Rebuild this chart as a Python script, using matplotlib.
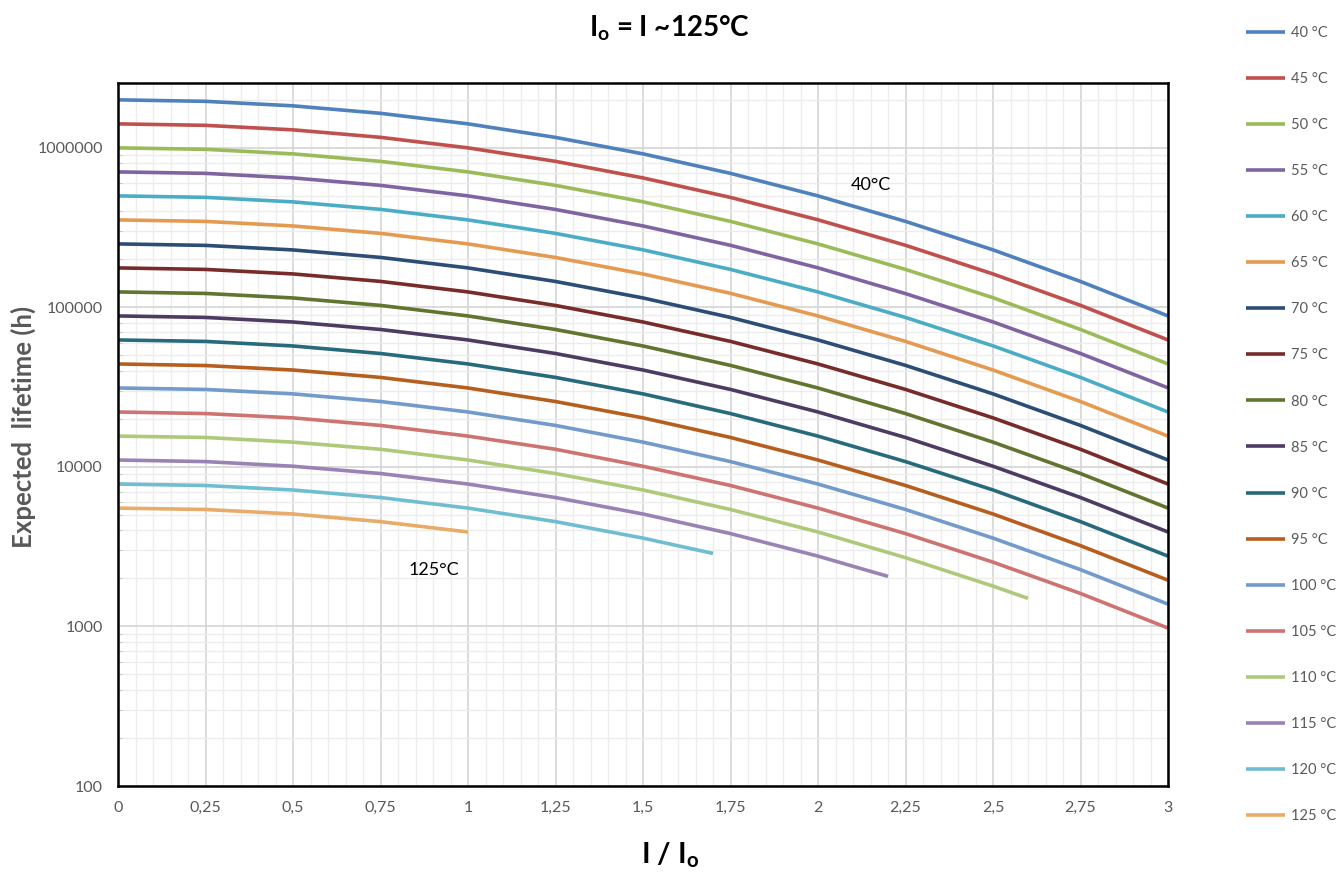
import matplotlib
matplotlib.use("Agg")
import matplotlib.pyplot as plt
from matplotlib.ticker import FixedLocator, NullFormatter, LogLocator

plt.rcParams['font.family'] = ['Lato', 'DejaVu Sans']
plt.rcParams['mathtext.fontset'] = 'custom'
plt.rcParams['mathtext.rm'] = 'Lato'
plt.rcParams['mathtext.bf'] = 'Lato:bold'

# I / Io values where the curves were read
x_grid = [0, 0.25, 0.5, 0.75, 1.0, 1.25, 1.5, 1.75, 2.0, 2.25, 2.5, 2.75, 3.0]
x_110 = [0, 0.25, 0.5, 0.75, 1.0, 1.25, 1.5, 1.75, 2.0, 2.25, 2.5, 2.6]
x_115 = [0, 0.25, 0.5, 0.75, 1.0, 1.25, 1.5, 1.75, 2.0, 2.2]
x_120 = [0, 0.25, 0.5, 0.75, 1.0, 1.25, 1.5, 1.7]
x_125 = [0, 0.25, 0.5, 0.75, 1.0]

# expected lifetime (h)
life_40 = [2000000, 1957000, 1834000, 1646000, 1414000, 1163000, 917000, 692000, 500000, 346000, 229400, 145400, 88400]
life_45 = [1414000, 1384000, 1297000, 1164000, 1000000, 823000, 648000, 489000, 354000, 245000, 162000, 103000, 62500]
life_50 = [1000000, 979000, 917000, 823000, 707000, 582000, 459000, 346000, 250000, 173000, 115000, 72700, 44200]
life_55 = [707000, 692000, 648000, 582000, 500000, 411000, 324000, 245000, 177000, 122000, 81100, 51400, 31300]
life_60 = [500000, 489500, 458500, 411500, 353500, 291000, 229500, 173000, 125000, 86500, 57400, 36400, 22100]
life_65 = [353500, 346000, 324000, 291000, 250000, 205500, 162000, 122500, 88400, 61200, 40500, 25700, 15600]
life_70 = [250000, 244700, 229200, 205700, 176800, 145400, 114600, 86500, 62500, 43300, 28700, 18200, 11050]
life_75 = [176800, 173000, 162100, 145500, 125000, 102800, 81000, 61200, 44200, 30600, 20300, 12900, 7810]
life_80 = [125000, 122300, 114600, 102900, 88400, 72700, 57300, 43300, 31250, 21600, 14300, 9090, 5520]
life_85 = [88400, 86500, 81000, 72700, 62500, 51400, 40500, 30600, 22100, 15300, 10100, 6430, 3910]
life_90 = [62500, 61200, 57300, 51400, 44200, 36400, 28700, 21600, 15600, 10800, 7170, 4540, 2760]
life_95 = [44200, 43200, 40500, 36400, 31250, 25700, 20300, 15300, 11050, 7650, 5070, 3210, 1950]
life_100 = [31250, 30600, 28700, 25700, 22100, 18200, 14300, 10800, 7810, 5410, 3580, 2270, 1380]
life_105 = [22100, 21600, 20300, 18200, 15600, 12900, 10100, 7650, 5520, 3820, 2530, 1610, 977]
life_110 = [15600, 15300, 14300, 12900, 11050, 9090, 7170, 5410, 3910, 2700, 1790, 1500]
life_115 = [11050, 10800, 10100, 9090, 7810, 6430, 5070, 3820, 2760, 2060]
life_120 = [7810, 7650, 7170, 6430, 5520, 4540, 3580, 2870]
life_125 = [5520, 5410, 5070, 4540, 3910]

labels = ["40 °C", "45 °C", "50 °C", "55 °C", "60 °C", "65 °C", "70 °C", "75 °C", "80 °C",
          "85 °C", "90 °C", "95 °C", "100 °C", "105 °C", "110 °C", "115 °C", "120 °C", "125 °C"]
colors = ["#4F81BD", "#C0504D", "#9BBB59", "#8064A2", "#4BACC6", "#E59A52",
          "#2C4D75", "#772C2A", "#5F7530", "#4D3B62", "#276A7C", "#B65E1E",
          "#729ACA", "#CD7371", "#AFC97A", "#9983B5", "#6FBDD1", "#E8AC6A"]

xs = [x_grid] * 14 + [x_110, x_115, x_120, x_125]
ys = [life_40, life_45, life_50, life_55, life_60, life_65, life_70, life_75, life_80,
      life_85, life_90, life_95, life_100, life_105, life_110, life_115, life_120, life_125]

fig = plt.figure(figsize=(13.36, 8.76), dpi=100)
ax = fig.add_axes([118 / 1336, 1 - 786 / 876, 1050 / 1336, 703 / 876])

for x, y, lab, c in zip(xs, ys, labels, colors):
    ax.plot(x, y, color=c, lw=2.6, label=lab, solid_capstyle='butt', zorder=3)

ax.set_yscale('log')
ax.set_xlim(0, 3)
ax.set_ylim(100, 2550000)

ax.xaxis.set_major_locator(FixedLocator(x_grid))
ax.xaxis.set_minor_locator(FixedLocator([i * 0.05 for i in range(61)]))
ax.set_xticklabels([("%g" % v).replace(".", ",") for v in x_grid])
ax.yaxis.set_major_locator(FixedLocator([100, 1000, 10000, 100000, 1000000]))
ax.yaxis.set_minor_locator(LogLocator(base=10, subs=range(2, 10), numticks=20))
ax.yaxis.set_minor_formatter(NullFormatter())
ax.set_yticklabels(["100", "1000", "10000", "100000", "1000000"])

ax.grid(True, which='major', color='#d4d4d4', lw=1.2, zorder=1)
ax.grid(True, which='minor', color='#ececec', lw=1.0, zorder=0)
ax.tick_params(which='major', length=0, labelsize=11.5, labelcolor='#595959', pad=11)
ax.tick_params(axis='y', which='minor', direction='in', length=3, color='#bfbfbf')
ax.tick_params(axis='x', which='minor', length=0)
for s in ax.spines.values():
    s.set_linewidth(1.8)
    s.set_color('black')
    s.set_zorder(5)

ax.text(2.15, 587000, "40°C", fontsize=13, ha='center', va='center')
ax.text(0.903, 2270, "125°C", fontsize=13, ha='center', va='center')

fig.text(670 / 1336, 1 - 28 / 876, r"$\mathbf{I_o}$ = I ~125°C", fontsize=20, fontweight='bold',
         ha='center', va='center')
fig.text(670 / 1336, 1 - 855 / 876, r"I / $\mathbf{I_o}$", fontsize=21, fontweight='bold',
         ha='center', va='center')
fig.text(23 / 1336, 1 - 427 / 876, "Expected  lifetime (h)", fontsize=18.5, fontweight='bold',
         color='#595959', rotation=90, ha='center', va='center')

fig.legend(loc='upper left', bbox_to_anchor=(1240 / 1336, 1 - 20 / 876), frameon=False,
           fontsize=10.5, labelcolor='#595959', handlelength=2.7, handletextpad=0.4,
           labelspacing=2.2, borderaxespad=0)

fig.savefig("out.png", dpi=100)
